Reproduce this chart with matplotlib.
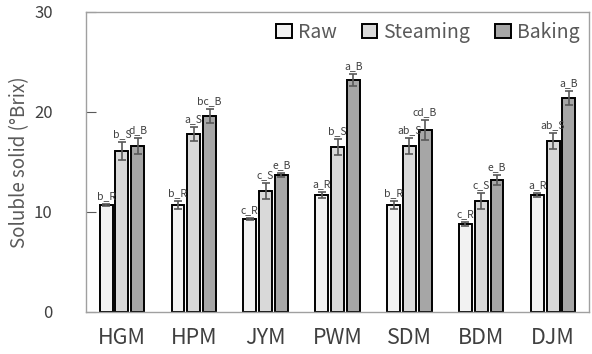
import numpy as np
import matplotlib
matplotlib.use("Agg")
from matplotlib import pyplot as plt

plt.rcParams['font.family'] = ['Noto Sans CJK KR', 'DejaVu Sans']

samples = ["HGM", "HPM", "JYM", "PWM", "SDM", "BDM", "DJM"]
treatments = ["Raw", "Steaming", "Baking"]

raw = [10.7, 10.7, 9.3, 11.7, 10.7, 8.8, 11.7]
steaming = [16.1, 17.8, 12.1, 16.5, 16.6, 11.1, 17.1]
baking = [16.6, 19.6, 13.7, 23.2, 18.2, 13.2, 21.4]

raw_err = [0.1, 0.4, 0.1, 0.3, 0.4, 0.2, 0.2]
steaming_err = [0.9, 0.7, 0.8, 0.8, 0.8, 0.8, 0.8]
baking_err = [0.8, 0.7, 0.2, 0.6, 1.0, 0.5, 0.7]

raw_sig = ["b_R", "b_R", "c_R", "a_R", "b_R", "c_R", "a_R"]
steaming_sig = ["b_S", "a_S", "c_S", "b_S", "ab_S", "c_S", "ab_S"]
baking_sig = ["d_B", "bc_B", "e_B", "a_B", "cd_B", "e_B", "a_B"]

colors = ["#f2f2f2", "#d9d9d9", "#a6a6a6"]
grey = "#595959"

fig = plt.figure(figsize=(5.92, 3.54), dpi=100)
ax = fig.add_axes([86/592, 1 - 312/354, 503/592, 300/354])

x = np.arange(len(samples))
width = 0.18
step = 0.22

series = [(raw, raw_err, raw_sig), (steaming, steaming_err, steaming_sig), (baking, baking_err, baking_sig)]
for i, (vals, errs, sigs) in enumerate(series):
    pos = x + (i - 1) * step
    ax.bar(pos, vals, width, color=colors[i], edgecolor="black", linewidth=1.4,
           label=treatments[i], zorder=2)
    ax.errorbar(pos, vals, yerr=errs, fmt="none", ecolor=grey, elinewidth=1.2,
                capsize=3, capthick=1.2, zorder=3)
    for p, v, e, s in zip(pos, vals, errs, sigs):
        ax.text(p, v + e + 0.3, s, ha="center", va="bottom", fontsize=7.5, color="#404040")

ax.set_xlim(-0.5, len(samples) - 0.5)
ax.set_ylim(0, 30)
ax.set_yticks([0, 10, 20, 30])
ax.set_xticks(x)
ax.set_xticklabels(samples, fontsize=15.5, color="#404040")
ax.tick_params(axis="x", length=0, pad=11)
ax.tick_params(axis="y", direction="in", length=7, color=grey, labelsize=12,
               labelcolor="#404040", pad=24)
for sp in ax.spines.values():
    sp.set_color("#a0a0a0")
    sp.set_linewidth(1.0)

ax.set_ylabel("Soluble solid (°Brix)", fontsize=13.5, color=grey, labelpad=3)

leg = ax.legend(loc="upper right", ncol=3, frameon=False, fontsize=14,
                handlelength=0.8, handleheight=0.8, handletextpad=0.3,
                columnspacing=1.3, borderaxespad=0.1)
for t in leg.get_texts():
    t.set_color(grey)

fig.savefig("out.png", dpi=100)
